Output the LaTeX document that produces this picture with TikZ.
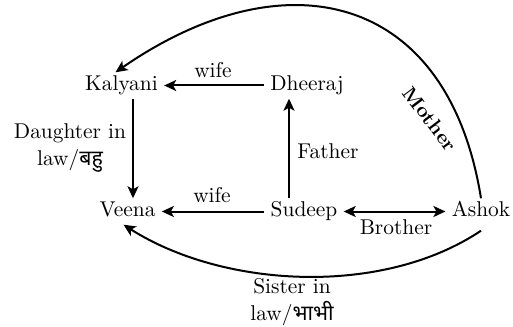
\documentclass[tikz,border=0pt]{standalone}
\usepackage{fontspec}
\usepackage{tikz}
\usetikzlibrary{arrows.meta}
\newfontfamily\devfont[Script=Devanagari]{Noto Sans}

\begin{document}
\begin{tikzpicture}[x=0.5pt,y=-0.5pt,
    person/.style={inner xsep=3pt, inner ysep=1.5pt, text height=7.5pt, text depth=2.3pt},
    relation/.style={align=center, inner sep=0pt},
    link/.style={line width=1pt, -{Stealth[length=6pt,width=5.5pt,inset=1.5pt]}},
    twoway/.style={line width=1pt, {Stealth[length=6pt,width=5.5pt,inset=1.5pt]}-{Stealth[length=6pt,width=5.5pt,inset=1.5pt]}},
    every node/.style={font=\fontsize{10.7}{13.5}\selectfont}]
      \useasboundingbox (0,0) rectangle (513,326);
      % people
      \node [person] (kalyani) at (121.5,85.5) {Kalyani};
      \node [person] (dheeraj) at (307,85.5) {Dheeraj};
      \node [person] (veena) at (127.5,211.5) {Veena};
      \node [person] (sudeep) at (304,211.5) {Sudeep};
      \node [person] (ashok) at (481,211.5) {Ashok};
      % straight relations
      \draw [link] (dheeraj) -- (kalyani);
      \draw (213,70) node [relation] {wife};
      \draw [link] (sudeep) -- (veena);
      \draw (212,195) node [relation] {wife};
      \draw [link] ([xshift=5.75pt]kalyani.south) -- ([xshift=2.75pt]veena.north);
      \draw (70,148) node [relation] {Daughter in\\law/{\devfont बहु}};
      \draw [link] ([xshift=-7.5pt]sudeep.north) -- ([xshift=-9pt]dheeraj.south);
      \draw (328,151) node [relation] {Father};
      \draw [twoway] (sudeep) -- (ashok);
      \draw (396,227) node [relation] {Brother};
      % curved relations
      \draw [link] (ashok.north) .. controls (448,-8) and (285,-45) .. ([xshift=-3pt]kalyani.north);
      \draw (430,119) node [relation, rotate=-53, font=\fontsize{10}{12}\selectfont\bfseries] {Mother};
      \draw [link] ([yshift=-3pt]ashok.south) .. controls (382,297) and (223,288) .. ([xshift=-2pt]veena.south);
      \draw (292,302) node [relation] {Sister in\\law/{\devfont भाभी}};
\end{tikzpicture}
\end{document}
